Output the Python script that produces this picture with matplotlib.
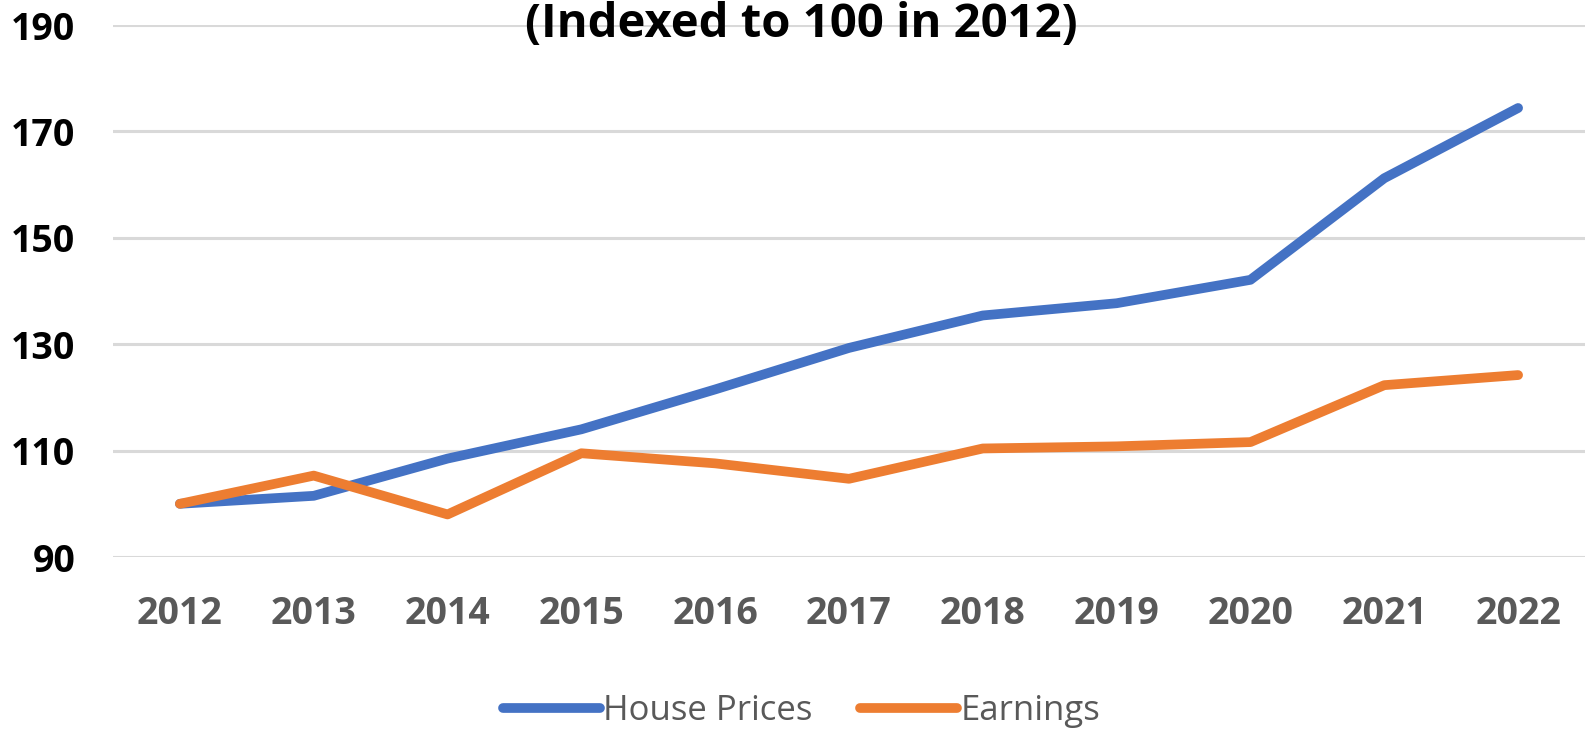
import matplotlib
matplotlib.use("Agg")
import matplotlib.pyplot as plt

plt.rcParams['font.family'] = ['Open Sans', 'DejaVu Sans']

# data
years = ['2012', '2013', '2014', '2015', '2016', '2017', '2018', '2019', '2020', '2021', '2022']
house_prices = [100, 101.5, 108.5, 114, 121.5, 129.3, 135.4, 137.7, 142.1, 161.2, 174.4]
earnings = [100, 105.3, 98, 109.5, 107.6, 104.7, 110.4, 110.8, 111.6, 122.3, 124.2]
y_ticks = [90, 110, 130, 150, 170, 190]

W, H = 1593, 732
fig = plt.figure(figsize=(W / 100, H / 100), dpi=100)
ax = fig.add_axes([113 / W, 1 - 557 / H, (1585 - 113) / W, (557 - 25) / H])

x = list(range(len(years)))
ax.plot(x, house_prices, color='#4472C4', lw=7, solid_capstyle='round', solid_joinstyle='round',
        label='House Prices', zorder=3)
ax.plot(x, earnings, color='#ED7D31', lw=7, solid_capstyle='round', solid_joinstyle='round',
        label='Earnings', zorder=3)

ax.set_xlim(-0.5, len(years) - 0.5)
ax.set_ylim(90, 190)
ax.set_yticks(y_ticks)
ax.set_xticks(x)
ax.set_xticklabels(years)
ax.grid(axis='y', color='#D9D9D9', lw=2.2)
ax.set_axisbelow(True)
for s in ax.spines.values():
    s.set_visible(False)
ax.tick_params(length=0)
ax.tick_params(axis='y', pad=27, labelsize=27, labelcolor='black')
ax.tick_params(axis='x', pad=27, labelsize=27, labelcolor='#595959')
for lab in ax.get_yticklabels() + ax.get_xticklabels():
    lab.set_fontweight('bold')

fig.text(0.503, 1 - 37 / H, '(Indexed to 100 in 2012)', ha='center', va='baseline',
         fontsize=34, fontweight='bold', color='black')

leg = fig.legend(loc='center', bbox_to_anchor=(0.503, 1 - 711 / H), ncol=2, frameon=False,
                 fontsize=25, handlelength=2.8, handletextpad=0.1, columnspacing=1.35)
for t in leg.get_texts():
    t.set_color('#595959')

fig.savefig('out.png', dpi=100)
